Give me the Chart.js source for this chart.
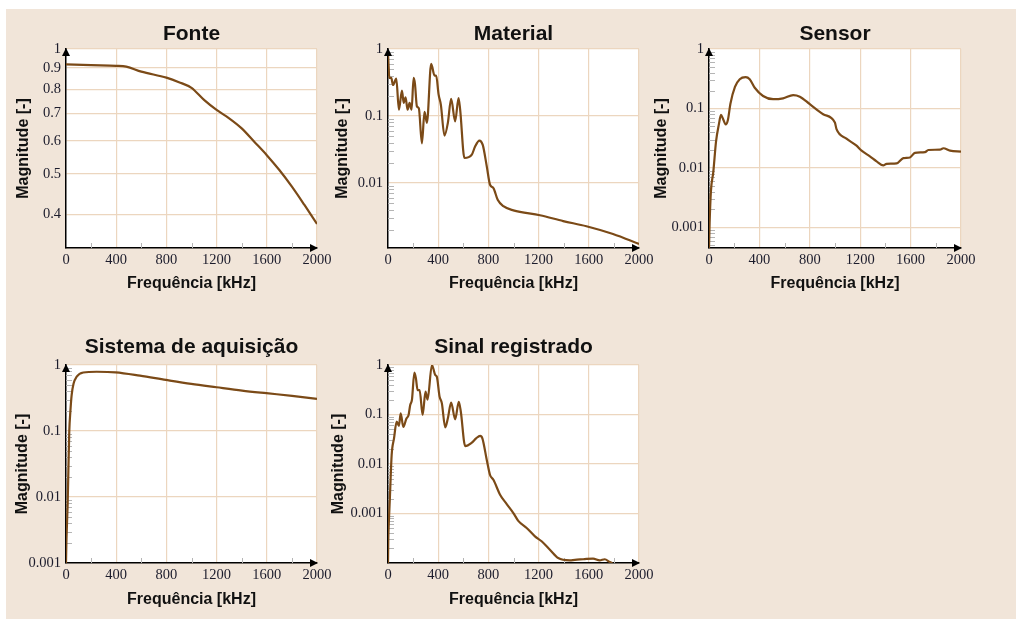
<!DOCTYPE html>
<html>
<head>
<meta charset="utf-8">
<script src="https://cdn.jsdelivr.net/npm/chart.js@4"></script>
<style>
  body { margin: 0; width: 1016px; height: 619px; background: #fff; position: relative; overflow: hidden; }
  #bg { position: absolute; left: 6px; top: 9px; right: 0; bottom: 0; background: #f1e5d9; }
  canvas { position: absolute; }
</style>
</head>
<body>
<div id="bg"></div>
<canvas id="fonte"></canvas>
<canvas id="material"></canvas>
<canvas id="sensor"></canvas>
<canvas id="aquisicao"></canvas>
<canvas id="sinal"></canvas>
<script>
// x axis tick labels (kHz), shared by every panel
const xTicks = [0, 400, 800, 1200, 1600, 2000];

// Fonte
const fonteFreq = [0, 200, 400, 480, 600, 800, 900, 1000, 1100, 1200, 1300, 1400, 1500, 1600, 1700, 1800, 1900, 2000];
const fonteMag = [0.918, 0.914, 0.911, 0.907, 0.882, 0.853, 0.832, 0.806, 0.754, 0.713, 0.681, 0.644, 0.598, 0.555, 0.511, 0.466, 0.421, 0.379];
const fonteTicks = [0.4, 0.5, 0.6, 0.7, 0.8, 0.9, 1];

// Material
const materialFreq = [0, 5, 10, 26, 40, 66, 87, 111, 125, 140, 156, 172, 188, 204, 215, 230, 246, 270, 291, 310, 344, 371, 384, 403, 421, 450, 477, 503, 535, 562, 575, 609, 668, 694, 728, 755, 787, 813, 840, 874, 919, 999, 1211, 1396, 1581, 1793, 2000];
const materialMag = [0.87, 0.55, 0.37, 0.37, 0.29, 0.36, 0.124, 0.24, 0.157, 0.19, 0.124, 0.157, 0.124, 0.37, 0.3, 0.14, 0.13, 0.039, 0.115, 0.079, 0.6, 0.4, 0.4, 0.21, 0.148, 0.051, 0.079, 0.18, 0.083, 0.185, 0.124, 0.0236, 0.0265, 0.035, 0.043, 0.037, 0.0177, 0.0094, 0.0084, 0.0056, 0.0045, 0.0039, 0.0033, 0.0027, 0.00226, 0.00173, 0.00123];
const materialTicks = [0.01, 0.1, 1];

// Sensor
const sensorFreq = [0, 5, 15, 34, 56, 79, 95, 110, 132, 150, 170, 206, 244, 291, 323, 363, 429, 509, 588, 668, 721, 800, 906, 999, 1012, 1091, 1171, 1211, 1277, 1330, 1383, 1409, 1489, 1542, 1595, 1634, 1714, 1740, 1833, 1860, 1913, 2000];
const sensorMag = [0.00045, 0.0012, 0.004, 0.0085, 0.028, 0.055, 0.078, 0.068, 0.054, 0.064, 0.12, 0.23, 0.31, 0.336, 0.31, 0.223, 0.162, 0.143, 0.148, 0.168, 0.158, 0.118, 0.08, 0.058, 0.045, 0.031, 0.0237, 0.0195, 0.0157, 0.0129, 0.011, 0.0117, 0.0119, 0.0146, 0.015, 0.0179, 0.0184, 0.02, 0.0203, 0.0214, 0.0195, 0.0188];
const sensorTicks = [0.001, 0.01, 0.1, 1];

// Sistema de aquisição
const aquisicaoFreq = [0, 3, 8, 13, 19, 26, 35, 45, 60, 85, 138, 244, 395, 589, 796, 998, 1199, 1403, 1597, 1801, 2000];
const aquisicaoMag = [0.001, 0.002, 0.004, 0.0076, 0.025, 0.098, 0.2, 0.35, 0.52, 0.665, 0.77, 0.79, 0.775, 0.69, 0.594, 0.517, 0.46, 0.41, 0.374, 0.341, 0.307];
const aquisicaoTicks = [0.001, 0.01, 0.1, 1];

// Sinal registrado
const sinalFreq = [0, 2, 8, 16, 29, 48, 69, 87, 101, 122, 146, 164, 177, 191, 210, 222, 236, 252, 276, 299, 315, 350, 376, 389, 411, 429, 456, 477, 503, 535, 564, 580, 615, 668, 702, 734, 752, 787, 813, 840, 893, 946, 999, 1038, 1105, 1171, 1224, 1290, 1356, 1449, 1489, 1555, 1634, 1687, 1727, 1767, 1788];
const sinalMag = [0.0001, 0.00027, 0.0008, 0.0024, 0.015, 0.033, 0.072, 0.059, 0.105, 0.056, 0.082, 0.098, 0.156, 0.2, 0.7, 0.55, 0.31, 0.31, 0.098, 0.29, 0.2, 1.0, 0.63, 0.58, 0.23, 0.17, 0.055, 0.084, 0.174, 0.08, 0.18, 0.115, 0.023, 0.027, 0.033, 0.037, 0.033, 0.0121, 0.006, 0.0048, 0.0024, 0.00155, 0.00102, 0.00071, 0.00051, 0.000345, 0.000275, 0.000186, 0.000126, 0.000113, 0.000116, 0.000119, 0.000123, 0.000113, 0.000119, 0.000105, 0.0001];
const sinalTicks = [0.001, 0.01, 0.1, 1];

const lineColor = '#7b4a17';
const gridColor = '#ecd6bf';
const tickColor = '#1c1c2c';
const tickFont = { family: "'Liberation Serif', 'Times New Roman', serif", size: 14.5 };
const axisTitleFont = { family: "'Liberation Sans', Arial, sans-serif", size: 16, weight: 'bold' };
const titleFont = { family: "'Liberation Sans', Arial, sans-serif", size: 21, weight: 'bold' };
const titleLine = 21 * 1.2;

// white plot area, log minor ticks, arrow heads on the axes
const axisDecor = {
  id: 'axisDecor',
  beforeDraw(chart) {
    const a = chart.chartArea;
    const ctx = chart.ctx;
    ctx.save();
    ctx.fillStyle = '#fff';
    ctx.fillRect(a.left, a.top, a.right - a.left, a.bottom - a.top);
    ctx.restore();
  },
  beforeDatasetsDraw(chart, args, opts) {
    const a = chart.chartArea;
    const ctx = chart.ctx;
    const xs = chart.scales.x;
    const ys = chart.scales.y;
    ctx.save();
    ctx.lineWidth = 1;
    ctx.strokeStyle = '#b5b5b5';
    // minor x ticks halfway between labels
    for (let i = 0; i < xTicks.length - 1; i++) {
      const px = Math.round(xs.getPixelForValue((xTicks[i] + xTicks[i + 1]) / 2)) + 0.5;
      ctx.beginPath();
      ctx.moveTo(px, a.bottom);
      ctx.lineTo(px, a.bottom - 5);
      ctx.stroke();
    }
    if (opts.minorY) {
      const lo = Math.floor(Math.log10(ys.min));
      for (let d = lo; d < 0; d++) {
        for (let k = 2; k <= 9; k++) {
          const v = k * Math.pow(10, d);
          if (v <= ys.min || v >= ys.max) continue;
          const py = Math.round(ys.getPixelForValue(v)) + 0.5;
          ctx.beginPath();
          ctx.moveTo(a.left, py);
          ctx.lineTo(a.left + 6, py);
          ctx.stroke();
        }
      }
    }
    ctx.restore();
  },
  afterDraw(chart) {
    const a = chart.chartArea;
    const ctx = chart.ctx;
    ctx.save();
    ctx.fillStyle = '#000';
    ctx.beginPath();
    ctx.moveTo(a.left, a.top - 1);
    ctx.lineTo(a.left - 4, a.top + 7);
    ctx.lineTo(a.left + 4, a.top + 7);
    ctx.closePath();
    ctx.fill();
    ctx.beginPath();
    ctx.moveTo(a.right + 1, a.bottom);
    ctx.lineTo(a.right - 7, a.bottom - 4);
    ctx.lineTo(a.right - 7, a.bottom + 4);
    ctx.closePath();
    ctx.fill();
    ctx.restore();
  }
};

function makePanel(id, cfg) {
  const titleH = Math.round(cfg.titleTop + titleLine + cfg.titleBottom);
  const canvas = document.getElementById(id);
  canvas.width = cfg.yWidth + cfg.plotW + 22;
  canvas.height = titleH + cfg.plotH + cfg.xHeight;
  canvas.style.left = (cfg.plotLeft - cfg.yWidth) + 'px';
  canvas.style.top = (cfg.plotTop - titleH) + 'px';

  const points = cfg.freq.map((f, i) => ({ x: f, y: cfg.mag[i] }));

  return new Chart(canvas.getContext('2d'), {
    type: 'line',
    data: {
      datasets: [{
        data: points,
        borderColor: lineColor,
        borderWidth: 2.2,
        pointRadius: 0,
        cubicInterpolationMode: 'monotone',
        fill: false
      }]
    },
    options: {
      responsive: false,
      animation: false,
      layout: { padding: { left: 0, top: 0, right: 22, bottom: 0 } },
      plugins: {
        legend: { display: false },
        tooltip: { enabled: false },
        title: {
          display: true,
          text: cfg.title,
          fullSize: false,
          color: '#111',
          font: titleFont,
          padding: { top: cfg.titleTop, bottom: cfg.titleBottom }
        },
        axisDecor: { minorY: cfg.minorY }
      },
      scales: {
        x: {
          type: 'linear',
          min: 0,
          max: 2000,
          afterBuildTicks: s => { s.ticks = xTicks.map(v => ({ value: v })); },
          afterFit: s => { s.height = cfg.xHeight; },
          ticks: { padding: 3, maxRotation: 0, autoSkip: false, color: tickColor, font: tickFont, callback: v => String(v) },
          grid: { drawTicks: false, lineWidth: 1.2, color: c => (c.tick && c.tick.value === 0) ? 'rgba(0,0,0,0)' : gridColor },
          border: { color: '#000', width: 1.5 },
          title: { display: true, text: 'Frequência [kHz]', color: '#111', font: axisTitleFont, padding: { top: 0, bottom: 0 } }
        },
        y: {
          type: 'logarithmic',
          min: cfg.yMin,
          max: 1,
          afterBuildTicks: s => { s.ticks = cfg.yTicks.map(v => ({ value: v })); },
          afterFit: s => { s.width = cfg.yWidth; },
          ticks: { padding: 5, color: tickColor, font: tickFont, callback: v => String(v) },
          grid: { drawTicks: false, lineWidth: 1.2, color: c => (c.tick && c.tick.value <= cfg.yMin) ? 'rgba(0,0,0,0)' : gridColor },
          border: { color: '#000', width: 1.5 },
          title: { display: true, text: 'Magnitude [-]', color: '#111', font: axisTitleFont, padding: { top: cfg.yTitlePad, bottom: 0 } }
        }
      }
    },
    plugins: [axisDecor]
  });
}

makePanel('fonte', {
  title: 'Fonte', freq: fonteFreq, mag: fonteMag, yTicks: fonteTicks, yMin: 0.3316, minorY: false,
  plotLeft: 66, plotTop: 49, plotW: 251, plotH: 199, yWidth: 56, yTitlePad: 4.4, titleTop: 3.4, titleBottom: 2.4, xHeight: 45
});
makePanel('material', {
  title: 'Material', freq: materialFreq, mag: materialMag, yTicks: materialTicks, yMin: 0.00107, minorY: true,
  plotLeft: 388, plotTop: 49, plotW: 251, plotH: 199, yWidth: 58, yTitlePad: 3.1, titleTop: 3.4, titleBottom: 2.4, xHeight: 45
});
makePanel('sensor', {
  title: 'Sensor', freq: sensorFreq, mag: sensorMag, yTicks: sensorTicks, yMin: 0.00045, minorY: true,
  plotLeft: 709, plotTop: 49, plotW: 252, plotH: 199, yWidth: 60, yTitlePad: 3.1, titleTop: 3.4, titleBottom: 2.4, xHeight: 45
});
makePanel('aquisicao', {
  title: 'Sistema de aquisição', freq: aquisicaoFreq, mag: aquisicaoMag, yTicks: aquisicaoTicks, yMin: 0.001, minorY: true,
  plotLeft: 66, plotTop: 365, plotW: 251, plotH: 198, yWidth: 56, yTitlePad: 3.1, titleTop: 3.9, titleBottom: 4.9, xHeight: 46
});
makePanel('sinal', {
  title: 'Sinal registrado', freq: sinalFreq, mag: sinalMag, yTicks: sinalTicks, yMin: 0.0001, minorY: true,
  plotLeft: 388, plotTop: 365, plotW: 251, plotH: 198, yWidth: 62, yTitlePad: 3.4, titleTop: 3.9, titleBottom: 4.9, xHeight: 46
});
</script>
</body>
</html>
